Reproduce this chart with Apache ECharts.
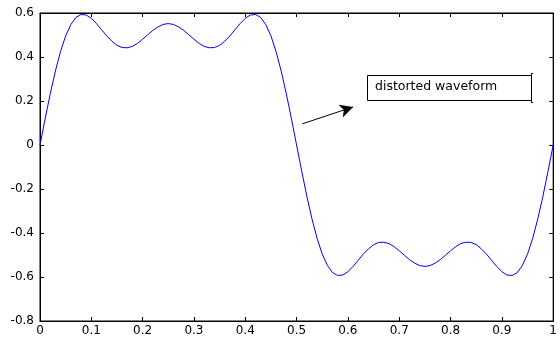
<!DOCTYPE html>
<html>
<head>
<meta charset="utf-8">
<script src="https://cdn.jsdelivr.net/npm/echarts@6/dist/echarts.min.js"></script>
<style>
html,body{margin:0;padding:0;background:#fff;}
#main{width:560px;height:338px;}
</style>
</head>
<body>
<div id="main"></div>
<script>
// time axis (s) and waveform samples
var tValues = [0,0.01,0.02,0.03,0.04,0.05,0.06,0.07,0.08,0.09,0.10,0.11,0.12,0.13,0.14,0.15,0.16,0.17,0.18,0.19,0.20,0.21,0.22,0.23,0.24,0.25,
	0.26,0.27,0.28,0.29,0.30,0.31,0.32,0.33,0.34,0.35,0.36,0.37,0.38,0.39,0.40,0.41,0.42,0.43,0.44,0.45,0.46,0.47,0.48,0.49,0.50,
	0.51,0.52,0.53,0.54,0.55,0.56,0.57,0.58,0.59,0.60,0.61,0.62,0.63,0.64,0.65,0.66,0.67,0.68,0.69,0.70,0.71,0.72,0.73,0.74,0.75,
	0.76,0.77,0.78,0.79,0.80,0.81,0.82,0.83,0.84,0.85,0.86,0.87,0.88,0.89,0.90,0.91,0.92,0.93,0.94,0.95,0.96,0.97,0.98,0.99,1.00];
var waveValues = [0,0.119,0.233,0.336,0.425,0.496,0.547,0.580,0.593,0.591,0.576,0.552,0.524,0.496,0.472,0.453,0.443,0.442,0.448,0.462,0.481,0.501,0.521,0.537,0.548,0.552,
	0.548,0.537,0.521,0.501,0.481,0.462,0.448,0.442,0.443,0.453,0.472,0.496,0.524,0.552,0.576,0.591,0.593,0.580,0.547,0.496,0.425,0.336,0.233,0.119,0,
	-0.119,-0.233,-0.336,-0.425,-0.496,-0.547,-0.580,-0.593,-0.591,-0.576,-0.552,-0.524,-0.496,-0.472,-0.453,-0.443,-0.442,-0.448,-0.462,-0.481,-0.501,-0.521,-0.537,-0.548,-0.552,
	-0.548,-0.537,-0.521,-0.501,-0.481,-0.462,-0.448,-0.442,-0.443,-0.453,-0.472,-0.496,-0.524,-0.552,-0.576,-0.591,-0.593,-0.580,-0.547,-0.496,-0.425,-0.336,-0.233,-0.119,0];
var xTickLabels = ['0','0.1','0.2','0.3','0.4','0.5','0.6','0.7','0.8','0.9','1'];
var yTickLabels = ['-0.8','-0.6','-0.4','-0.2','0','0.2','0.4','0.6'];
var annotationText = 'distorted waveform';
var arrowFrom = [0.511, 0.096];
var arrowTo = [0.610, 0.173];

var FONT = 'DejaVu Sans';
var chart = echarts.init(document.getElementById('main'));

function fmtX(v){
	var i = Math.round(v * 10);
	return xTickLabels[i] !== undefined ? xTickLabels[i] : '';
}
function fmtY(v){
	var i = Math.round((v + 0.8) / 0.2);
	return yTickLabels[i] !== undefined ? yTickLabels[i] : '';
}

var data = [];
for (var i = 0; i < tValues.length; i++) data.push([tValues[i], waveValues[i]]);

function axis(o){
	var r = {
		type: 'value',
		axisLine: {show: true, onZero: false, lineStyle: {color: '#000', width: 1}},
		axisTick: {show: true, inside: true, length: 4, lineStyle: {color: '#000'}},
		splitLine: {show: false}
	};
	for (var k in o) r[k] = o[k];
	return r;
}

var option = {
	animation: false,
	backgroundColor: '#fff',
	grid: {left: 40, right: 5, top: 13, bottom: 17, containLabel: false,
		show: true, borderColor: '#000', borderWidth: 1, backgroundColor: 'transparent'},
	xAxis: [
		axis({position: 'bottom', min: 0, max: 1, interval: 0.1,
			axisLabel: {color: '#000', fontFamily: FONT, fontSize: 12, margin: 4, formatter: fmtX}}),
		axis({position: 'top', min: 0, max: 1, interval: 0.1, axisLabel: {show: false}})
	],
	yAxis: [
		axis({position: 'left', min: -0.8, max: 0.6, interval: 0.2,
			axisLabel: {color: '#000', fontFamily: FONT, fontSize: 12, margin: 6, formatter: fmtY}}),
		axis({position: 'right', min: -0.8, max: 0.6, interval: 0.2, axisLabel: {show: false}})
	],
	series: [{
		type: 'line',
		data: data,
		showSymbol: false,
		symbol: 'none',
		lineStyle: {color: '#0000ff', width: 1},
		markLine: {
			silent: true,
			symbol: ['none', 'arrow'],
			symbolSize: [10, 13],
			label: {show: false},
			lineStyle: {color: '#000', width: 1, type: 'solid'},
			data: [[{coord: arrowFrom}, {coord: arrowTo}]]
		}
	}],
	graphic: [{
		type: 'rect',
		shape: {x: 367.5, y: 75.5, width: 164, height: 25},
		style: {fill: '#fff', stroke: '#000', lineWidth: 1}
	}, {
		type: 'polyline',
		shape: {points: [[533, 73.5], [531.5, 73.5], [531.5, 102.5], [533, 102.5]]},
		style: {stroke: '#000', lineWidth: 1, fill: null}
	}, {
		type: 'text',
		x: 375, y: 80,
		style: {text: annotationText, fill: '#000', font: '12.5px "DejaVu Sans"'}
	}]
};

chart.setOption(option);
</script>
</body>
</html>
